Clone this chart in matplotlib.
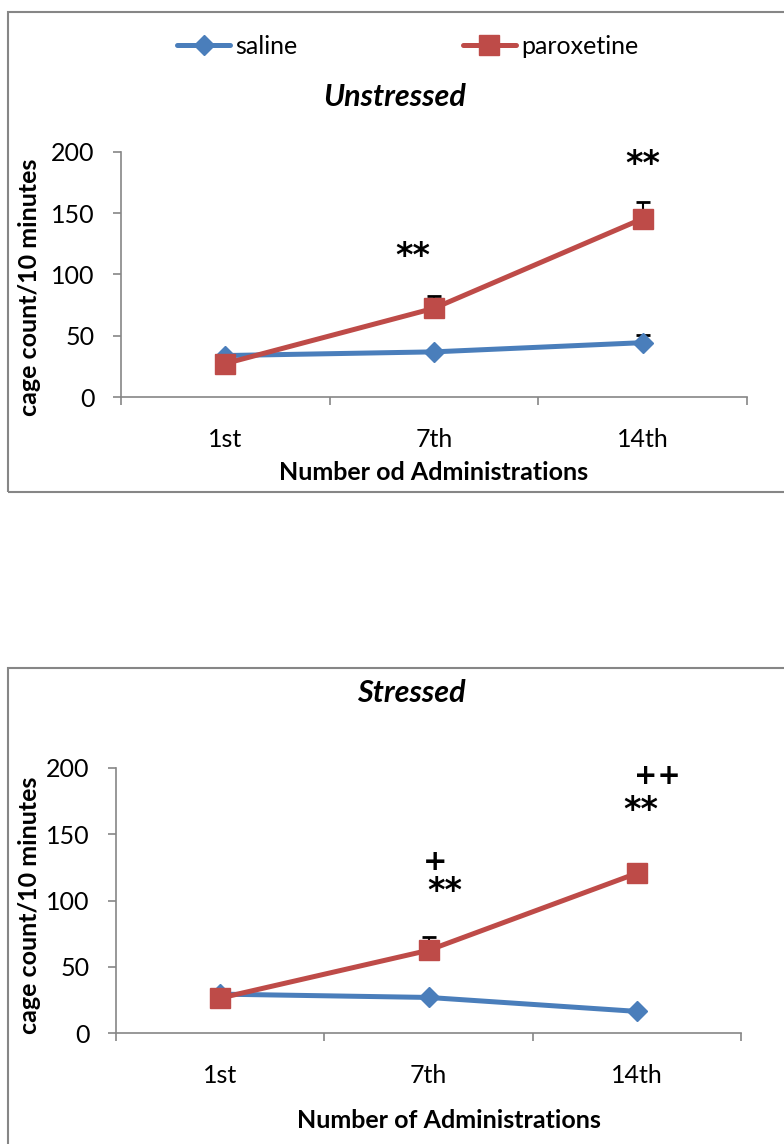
import matplotlib
matplotlib.use("Agg")
import matplotlib.pyplot as plt
from matplotlib.patches import Rectangle

plt.rcParams['font.family'] = ['Lato', 'DejaVu Sans']

# data
doses = ["1st", "7th", "14th"]
saline_unstressed = [34, 37, 44.5]
parox_unstressed = [27.5, 72.5, 145.5]
saline_unstressed_err = [0, 0, 6.5]
parox_unstressed_err = [0, 10, 13.5]

saline_stressed = [29.5, 27, 16.5]
parox_stressed = [26.5, 62.5, 120.5]
saline_stressed_err = [0, 0, 0]
parox_stressed_err = [0, 10, 7]

BLUE = "#4A7EBB"
RED = "#BE4B48"
GREY = "#868686"

W, H = 784, 1144
fig = plt.figure(figsize=(W / 100, H / 100), dpi=100)


def px_box(left, top, right, bottom):
    return [left / W, 1 - bottom / H, (right - left) / W, (bottom - top) / H]


def fx(x):
    return x / W


def fy(y):
    return 1 - y / H


def mark(ax, x, y, s, size=24):
    ax.text(x, y, s, ha='center', va='center', fontsize=size,
            fontweight='bold', family='DejaVu Sans')


def draw_panel(ax, saline, parox, s_err, p_err):
    x = list(range(len(doses)))
    ax.errorbar(x, saline, yerr=[[0] * 3, s_err], fmt='none', ecolor='black',
                elinewidth=1.5, capsize=5, capthick=2, zorder=1)
    ax.errorbar(x, parox, yerr=[[0] * 3, p_err], fmt='none', ecolor='black',
                elinewidth=1.5, capsize=5, capthick=2, zorder=1)
    ax.plot(x, saline, color=BLUE, lw=3.6, marker='D', ms=10.5,
            solid_capstyle='round', zorder=3, label='saline')
    ax.plot(x, parox, color=RED, lw=3.6, marker='s', ms=14,
            solid_capstyle='round', zorder=4, label='paroxetine')
    ax.set_xlim(-0.5, 2.5)
    ax.set_ylim(0, 200)
    ax.set_yticks([0, 50, 100, 150, 200])
    ax.set_xticks(x)
    ax.set_xticklabels(doses)
    ax.set_xticks([-0.5, 0.5, 1.5, 2.5], minor=True)
    ax.tick_params(axis='x', which='major', length=0, pad=22, labelsize=18)
    ax.tick_params(axis='x', which='minor', length=6, width=1.2, color=GREY)
    ax.tick_params(axis='y', length=6, width=1.2, color=GREY, pad=13, labelsize=18)
    for s in ['top', 'right']:
        ax.spines[s].set_visible(False)
    for s in ['left', 'bottom']:
        ax.spines[s].set_color(GREY)
        ax.spines[s].set_linewidth(1.2)
    ax.set_facecolor('none')


# frames round each chart
fig.patches.append(Rectangle((fx(8), fy(492)), fx(790) - fx(8), fy(12) - fy(492),
                             transform=fig.transFigure, fill=False,
                             edgecolor=GREY, lw=1.5))
fig.patches.append(Rectangle((fx(8), fy(1150)), fx(790) - fx(8), fy(668) - fy(1150),
                             transform=fig.transFigure, fill=False,
                             edgecolor=GREY, lw=1.5))

# unstressed
ax1 = fig.add_axes(px_box(121, 151.7, 747, 397.3))
draw_panel(ax1, saline_unstressed, parox_unstressed,
           saline_unstressed_err, parox_unstressed_err)
mark(ax1, 0.9, 115, "**")
mark(ax1, 2.0, 189.5, "**")
fig.text(fx(395), fy(97), "Unstressed", ha='center', va='center',
         fontsize=22, fontweight='bold', style='italic')
fig.text(fx(434), fy(473), "Number od Administrations", ha='center',
         va='center', fontsize=18, fontweight='bold')
fig.text(fx(30), fy(287), "cage count/10 minutes", ha='center', va='center',
         rotation=90, fontsize=18, fontweight='bold')
ax1.legend(loc='center left', bbox_to_anchor=(fx(177), fy(46)),
           bbox_transform=fig.transFigure, ncol=2, frameon=False,
           fontsize=18, handlelength=2.12, handletextpad=0.22,
           columnspacing=6.6, borderpad=0, borderaxespad=0, numpoints=1)

# stressed
ax2 = fig.add_axes(px_box(116, 767.7, 741, 1033.3))
draw_panel(ax2, saline_stressed, parox_stressed,
           saline_stressed_err, parox_stressed_err)
mark(ax2, 1.03, 129, "+", 21)
mark(ax2, 1.08, 106.5, "**")
mark(ax2, 2.1, 194, "++", 20)
mark(ax2, 2.02, 167.5, "**")
fig.text(fx(411), fy(693), "Stressed", ha='center', va='center',
         fontsize=22, fontweight='bold', style='italic')
fig.text(fx(449), fy(1120), "Number of Administrations", ha='center',
         va='center', fontsize=18, fontweight='bold')
fig.text(fx(30), fy(905), "cage count/10 minutes", ha='center', va='center',
         rotation=90, fontsize=18, fontweight='bold')

fig.savefig("out.png", dpi=100)
